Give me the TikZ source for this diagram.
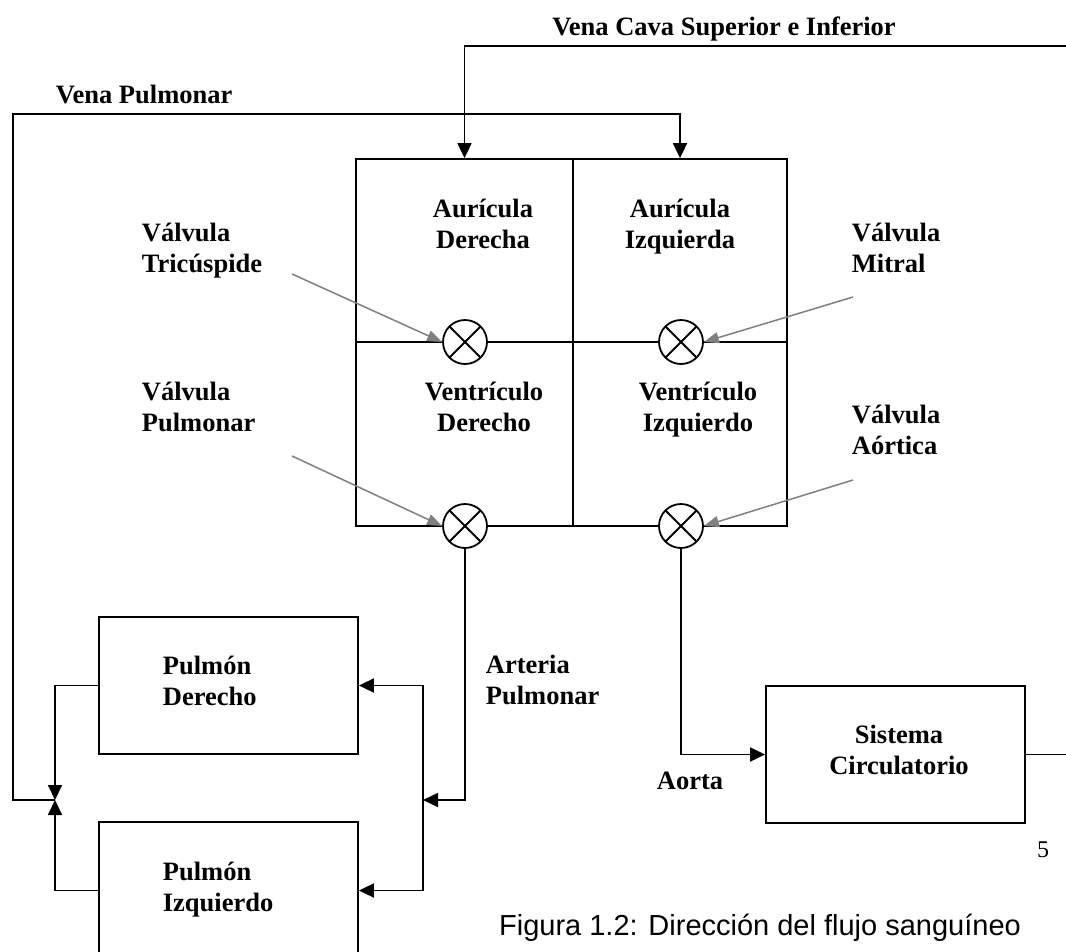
\documentclass[tikz,border=0pt]{standalone}
\usepackage{fontspec}
\setmainfont{Liberation Serif}
\newfontfamily\capfont{Liberation Sans}
\usetikzlibrary{arrows.meta}
\newcommand{\lblfont}{\fontsize{26.5}{31}\selectfont\bfseries}

\begin{document}
\begin{tikzpicture}[x=1pt,y=-1pt,line width=1.8pt,
  >={Triangle[length=15pt,width=14pt]},
  flow/.style={->},
  pointer/.style={draw=gray,line width=1.5pt,-{Triangle[length=15pt,width=11pt]}},
  chamber/.style={draw,rectangle,inner sep=0pt},
  organ/.style={draw,rectangle,inner sep=0pt,minimum width=259pt,minimum height=137pt},
  valve/.style={draw,circle,fill=white,inner sep=0pt,minimum size=44pt,
    path picture={\draw (path picture bounding box.north west) -- (path picture bounding box.south east)
      (path picture bounding box.south west) -- (path picture bounding box.north east);}},
  lbl/.style={font=\lblfont,align=left,anchor=base west,inner sep=0pt},
  ctext/.style={font=\lblfont,align=center,anchor=base,inner sep=0pt}]
\useasboundingbox (0,0) rectangle (1066,951);

% heart
\node[chamber,minimum width=217pt,minimum height=183pt] (AD) at (464.5,250.5) {};
\node[chamber,minimum width=214pt,minimum height=183pt] (AI) at (680,250.5) {};
\node[chamber,minimum width=217pt,minimum height=184pt] (VD) at (464.5,434) {};
\node[chamber,minimum width=214pt,minimum height=184pt] (VI) at (680,434) {};
\node[ctext] (tAD) at (483,248) {Aurícula\\Derecha};
\node[ctext] (tAI) at (680,248) {Aurícula\\Izquierda};
\node[ctext] (tVD) at (484,431) {Ventrículo\\Derecho};
\node[ctext] (tVI) at (698,431) {Ventrículo\\Izquierdo};

% valves
\node[valve] (vT) at (465,342) {};
\node[valve] (vM) at (681,342) {};
\node[valve] (vP) at (465,526) {};
\node[valve] (vA) at (681,526) {};

% organs
\node[organ] (pulD) at (228.5,685.5) {};
\node[organ] (pulI) at (228.5,890.5) {};
\node[organ] (sist) at (895.5,754.5) {};
\node[lbl] (tpulD) at (162,705) {Pulmón\\Derecho};
\node[lbl] (tpulI) at (162,911) {Pulmón\\Izquierdo};
\node[ctext] (tsist) at (899,774) {Sistema\\Circulatorio};

% labels
\node[ctext] (lVC) at (724,35) {Vena Cava Superior e Inferior};
\node[lbl] (lVP) at (55,103) {Vena Pulmonar};
\node[lbl] (lT) at (141,272) {Válvula\\Tricúspide};
\node[lbl] (lM) at (851,272) {Válvula\\Mitral};
\node[lbl] (lP) at (141,431) {Válvula\\Pulmonar};
\node[lbl] (lA) at (851,454) {Válvula\\Aórtica};
\node[lbl] (lAP) at (485,704) {Arteria\\Pulmonar};
\node[ctext] (lAo) at (690,789) {Aorta};
\node[font=\fontsize{24}{28}\selectfont,anchor=base,inner sep=0pt] (pg) at (1043,857) {5};
\node[font={\capfont\fontsize{29}{33}\selectfont},anchor=base,inner sep=0pt] (cap) at (760,935)
  {Figura 1.2: Dirección del flujo sanguíneo};

% free ends
\coordinate (vcR) at (1066,46);
\coordinate (scR) at (1066,754.5);
\coordinate (jn) at (55,800);
\coordinate (ap) at (423,800);
\coordinate (pT) at (292,274);
\coordinate (pM) at (853,297);
\coordinate (pP) at (292,456);
\coordinate (pA) at (853,480);

% blood flow
\draw[flow] (vcR) -| (AD.north);
\draw (sist.east) -- (scR);
\draw[flow] (pulD.west) -| (jn);
\draw[flow] (pulI.west) -| (jn);
\draw[flow] (jn) -| (13,114) -| (AI.north);
\draw[flow] (vP.south) |- (ap);
\draw[flow] (ap) |- (pulD.east);
\draw[flow] (ap) |- (pulI.east);
\draw[flow] (vA.south) |- (sist.west);

% valve pointers
\draw[pointer] (pT) -- (vT.west);
\draw[pointer] (pM) -- (vM.east);
\draw[pointer] (pP) -- (vP.west);
\draw[pointer] (pA) -- (vA.east);
\end{tikzpicture}
\end{document}
